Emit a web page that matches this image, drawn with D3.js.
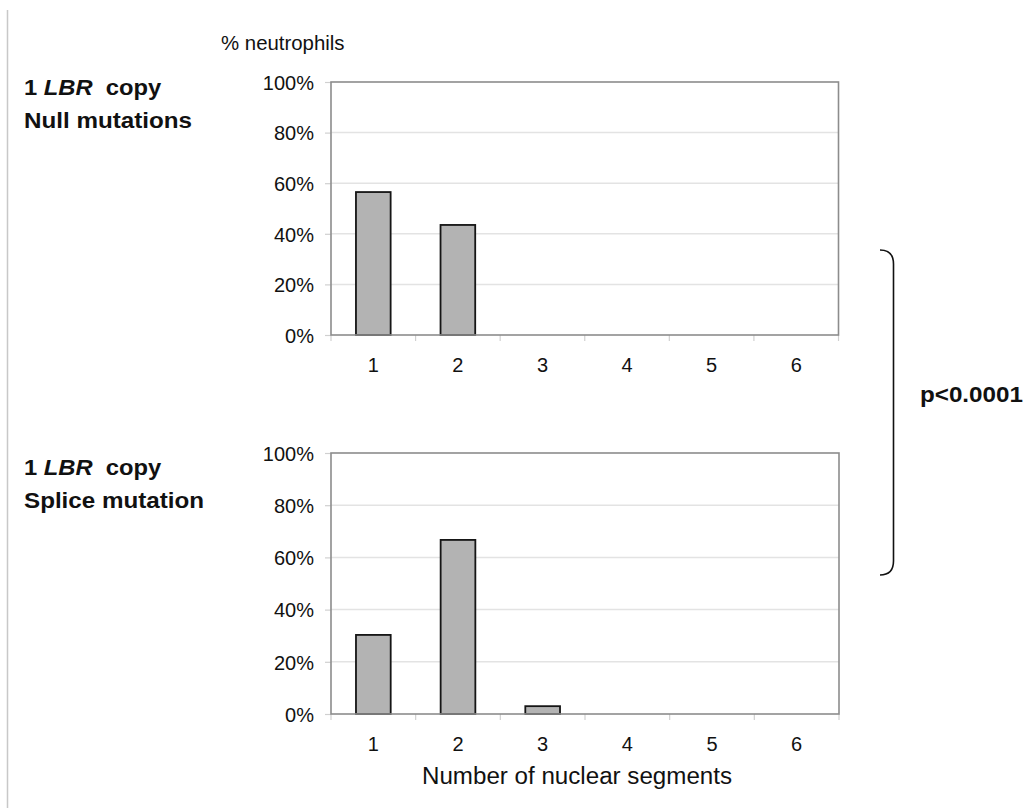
<!DOCTYPE html>
<html>
<head>
<meta charset="utf-8">
<script src="https://cdn.jsdelivr.net/npm/d3@7"></script>
<style>
  html, body { margin: 0; padding: 0; background: #fff; }
  svg { display: block; font-family: "Liberation Sans", Arial, sans-serif; }
</style>
</head>
<body>
<svg id="chart" width="1030" height="808"></svg>
<script>
// Number of nuclear segments per neutrophil
const categories = [1, 2, 3, 4, 5, 6];
// % of neutrophils, one copy of LBR with null mutations
const nullValues = [56.5, 43.5, 0, 0, 0, 0];
// % of neutrophils, one copy of LBR with the splice mutation
const spliceValues = [30.3, 66.7, 3.0, 0, 0, 0];
const yTicks = [0, 20, 40, 60, 80, 100];
const yTickLabels = ["0%", "20%", "40%", "60%", "80%", "100%"];

const svg = d3.select("#chart");

// thin rule down the left side of the figure
svg.append("line")
  .attr("x1", 7.5).attr("x2", 7.5).attr("y1", 10).attr("y2", 808)
  .attr("stroke", "#c8c8c8").attr("stroke-width", 1.5);

// text helper with a slight horizontal stretch around its anchor
function label(g, x, y, txt, opts) {
  const o = Object.assign({ size: 19, weight: "normal", anchor: "start", sx: 1.05 }, opts || {});
  return g.append("text")
    .attr("transform", `translate(${x},${y}) scale(${o.sx},1)`)
    .attr("font-size", o.size)
    .attr("font-weight", o.weight)
    .attr("text-anchor", o.anchor)
    .attr("fill", "#111")
    .text(txt);
}

function panel(values, box) {
  const g = svg.append("g");
  const x = d3.scaleBand().domain(categories).range([box.left, box.right]).paddingInner(0).paddingOuter(0);
  const y = d3.scaleLinear().domain([0, 100]).range([box.bottom, box.top]);

  // horizontal gridlines
  g.append("g").selectAll("line").data(yTicks.filter(t => t > 0 && t < 100)).join("line")
    .attr("x1", box.left).attr("x2", box.right)
    .attr("y1", d => y(d)).attr("y2", d => y(d))
    .attr("stroke", "#e3e3e3").attr("stroke-width", 1.5);

  // y axis ticks and labels
  const yAxis = d3.axisLeft(y).tickValues(yTicks)
    .tickFormat((d, i) => yTickLabels[i]).tickSize(6).tickPadding(11);
  const ya = g.append("g").attr("transform", `translate(${box.left},0)`).call(yAxis);
  ya.select(".domain").remove();
  ya.selectAll(".tick line").attr("stroke", "#d0d0d0").attr("stroke-width", 1.2);
  ya.selectAll(".tick text")
    .attr("font-size", 20).attr("fill", "#111")
    .attr("font-family", "'Liberation Sans', Arial, sans-serif")
    .attr("dy", "0.36em");

  // x ticks at the category boundaries
  const bounds = categories.map(c => x(c)).concat([box.right]);
  g.append("g").selectAll("line").data(bounds).join("line")
    .attr("x1", d => d).attr("x2", d => d)
    .attr("y1", box.bottom).attr("y2", box.bottom + 6)
    .attr("stroke", "#d0d0d0").attr("stroke-width", 1.2);

  // x category labels
  g.append("g").selectAll("text").data(categories).join("text")
    .attr("x", d => x(d) + x.bandwidth() / 2)
    .attr("y", box.bottom + 37)
    .attr("text-anchor", "middle")
    .attr("font-size", 20).attr("fill", "#111")
    .text(d => d);

  // bars
  const bw = x.bandwidth() * 0.41;
  g.append("g").selectAll("rect")
    .data(categories.map((c, i) => ({ c, v: values[i] })).filter(d => d.v > 0))
    .join("rect")
    .attr("x", d => x(d.c) + (x.bandwidth() - bw) / 2)
    .attr("y", d => y(d.v))
    .attr("width", bw)
    .attr("height", d => y(0) - y(d.v))
    .attr("fill", "#b3b3b3")
    .attr("stroke", "#151515").attr("stroke-width", 1.8);

  // plot frame
  g.append("rect")
    .attr("x", box.left).attr("y", box.top)
    .attr("width", box.right - box.left).attr("height", box.bottom - box.top)
    .attr("fill", "none").attr("stroke", "#8c8c8c").attr("stroke-width", 1.6);
  return g;
}

panel(nullValues, { left: 331, right: 838.5, top: 82, bottom: 335 });
panel(spliceValues, { left: 331, right: 839, top: 453, bottom: 714 });

// axis titles
label(svg, 221, 50, "% neutrophils", { size: 20, sx: 1.02 });
label(svg, 577, 784, "Number of nuclear segments", { size: 23, anchor: "middle", sx: 1.05 });

// group labels: "1 LBR copy" with LBR italic
function groupLabel(x, y1, y2, second) {
  const g = svg.append("g");
  const t = g.append("text")
    .attr("transform", `translate(${x},${y1}) scale(1.08,1)`)
    .attr("font-size", 22).attr("font-weight", "bold").attr("fill", "#111");
  t.append("tspan").text("1 ");
  t.append("tspan").attr("font-style", "italic").text("LBR");
  t.append("tspan").text("\u00a0 copy");
  label(g, x, y2, second, { size: 22, weight: "bold", sx: 1.1 });
}
groupLabel(24, 95, 128, "Null mutations");
groupLabel(24, 475, 508, "Splice mutation");

// bracket joining the two groups
const brace = d3.path();
brace.moveTo(880, 250);
brace.quadraticCurveTo(893.5, 250, 893.5, 264);
brace.lineTo(893.5, 561);
brace.quadraticCurveTo(893.5, 575, 880, 575);
svg.append("path").attr("d", brace.toString())
  .attr("fill", "none").attr("stroke", "#111").attr("stroke-width", 1.6);

label(svg, 920, 402, "p<0.0001", { size: 22, weight: "bold", sx: 1.1 });
</script>
</body>
</html>
